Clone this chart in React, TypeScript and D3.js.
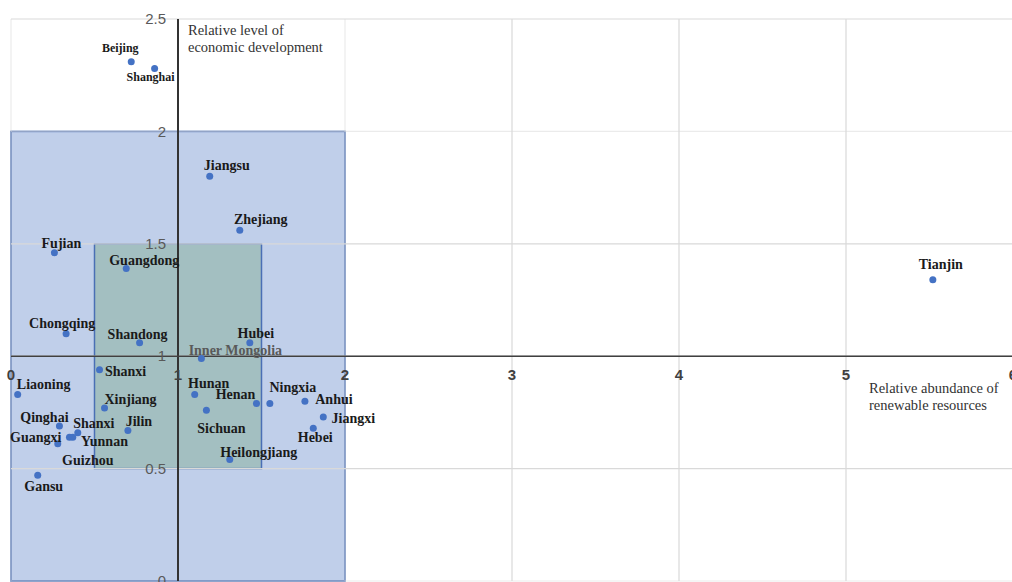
import React from 'react';
import { scaleLinear, range } from 'd3';

// province scatter: relative abundance of renewables (x) vs economic level (y)
const provinces = [
    'Beijing', 'Shanghai', 'Jiangsu', 'Zhejiang', 'Fujian', 'Guangdong', 'Chongqing', 'Shandong',
    'Hubei', 'Inner Mongolia', 'Tianjin', 'Shanxi', 'Liaoning', 'Xinjiang', 'Qinghai', 'Shanxi',
    'Jilin', 'Guangxi', 'Yunnan', 'Guizhou', 'Gansu', 'Hunan', 'Henan', 'Ningxia', 'Anhui',
    'Jiangxi', 'Hebei', 'Sichuan', 'Heilongjiang',
];
const renewables = [
    0.72, 0.86, 1.19, 1.37, 0.26, 0.69, 0.33, 0.77,
    1.43, 1.14, 5.52, 0.53, 0.04, 0.56, 0.29, 0.40,
    0.70, 0.28, 0.35, 0.37, 0.16, 1.10, 1.47, 1.55, 1.76,
    1.87, 1.81, 1.17, 1.31,
];
const economy = [
    2.31, 2.28, 1.80, 1.56, 1.46, 1.39, 1.10, 1.06,
    1.06, 0.99, 1.34, 0.94, 0.83, 0.77, 0.69, 0.66,
    0.67, 0.61, 0.64, 0.64, 0.47, 0.83, 0.79, 0.79, 0.80,
    0.73, 0.68, 0.76, 0.54,
];
const xTicks = [0, 1, 2, 3, 4, 5, 6];
const yTicks = [0, 0.5, 1, 1.5, 2, 2.5];
// quadrant boxes [x0, x1, y0, y1]
const outerBox = [0, 2, 0, 2];
const innerBox = [0.5, 1.5, 0.5, 1.5];

// label placement (pixel offset of label centre from its dot)
const labelOffsets = [
    [-11, -14], [-4, 8], [17, -11], [21, -11], [7, -10], [18, -8], [-4, -11], [-2, -9],
    [6, -10], [34, -8], [8, -16], [26, 1], [26, -10], [26, -9], [-15, -9], [16, -10],
    [11, -9], [-22, -7], [35, 4], [15, 23], [6, 11], [14, -11], [-21, -9], [23, -16], [29, -2],
    [30, 1], [2, 9], [15, 18], [29, -8],
];

export default function App() {
    const width = 1012;
    const height = 582;
    const x = scaleLinear().domain([0, 6]).range([11, 1013]);
    const y = scaleLinear().domain([0, 2.5]).range([581, 19]);
    const serif = '"Liberation Serif", "Times New Roman", serif';
    const sans = '"Liberation Sans", Arial, sans-serif';

    const box = (b, fill, key) => (
        <rect
            key={key}
            x={x(b[0])}
            y={y(b[3])}
            width={x(b[1]) - x(b[0])}
            height={y(b[2]) - y(b[3])}
            fill={fill}
            stroke="#4a6fb5"
            strokeWidth="1.5"
        />
    );

    return (
        <svg width={width} height={height} style={{ position: 'absolute', left: 0, top: 0, background: '#fff' }}>
            {box(outerBox, '#c0cfea', 'outer')}
            {box(innerBox, '#a3bfc1', 'inner')}

            {/* grid */}
            {xTicks.map(t => (
                <line key={'gx' + t} x1={x(t)} x2={x(t)} y1={y(2.5)} y2={y(0)} stroke="#d9d9d9" strokeWidth="1.2" opacity={t === 0 || t === 2 ? 0.5 : 1} />
            ))}
            {yTicks.map(t => (
                <line key={'gy' + t} x1={x(0)} x2={x(6)} y1={y(t)} y2={y(t)} stroke="#d9d9d9" strokeWidth="1.2" opacity={t === 0 || t === 2 ? 0.5 : 1} />
            ))}

            {/* axes crossing at (1, 1) */}
            <line x1={x(1)} x2={x(1)} y1={y(2.5)} y2={y(0)} stroke="#333" strokeWidth="2" />
            <line x1={x(0)} x2={x(6)} y1={y(1)} y2={y(1)} stroke="#404040" strokeWidth="1.6" />

            {/* y tick labels */}
            {yTicks.map(t => (
                <text key={'ty' + t} x={x(1) - 12} y={y(t)} dy="0.35em" textAnchor="end" fontFamily={sans} fontSize="15" fill="#595959">
                    {t}
                </text>
            ))}
            {/* x tick labels */}
            {xTicks.map(t => (
                <text key={'tx' + t} x={x(t)} y={y(1) + 19} dy="0.35em" textAnchor="middle" fontFamily={sans} fontSize="15" fontWeight="bold" fill="#404040">
                    {t}
                </text>
            ))}

            {/* points */}
            {provinces.map((p, i) => (
                <circle key={'c' + i} cx={x(renewables[i])} cy={y(economy[i])} r="3.5" fill="#4472c4" />
            ))}
            {provinces.map((p, i) => {
                const small = i < 2;
                const grey = p === 'Inner Mongolia';
                return (
                    <text
                        key={'l' + i}
                        x={x(renewables[i]) + labelOffsets[i][0]}
                        y={y(economy[i]) + labelOffsets[i][1]}
                        dy="0.35em"
                        textAnchor="middle"
                        fontFamily={serif}
                        fontWeight="bold"
                        fontSize={small ? 12 : 14}
                        fill={grey ? '#595959' : '#1a1a1a'}
                    >
                        {p}
                    </text>
                );
            })}

            {/* axis titles */}
            <text x={188} y={30} dy="0.35em" fontFamily={serif} fontSize="14.5" fill="#333">Relative level of</text>
            <text x={188} y={47} dy="0.35em" fontFamily={serif} fontSize="14.5" fill="#333">economic development</text>
            <text x={869} y={388} dy="0.35em" fontFamily={serif} fontSize="14.5" fill="#333">Relative abundance of</text>
            <text x={869} y={405} dy="0.35em" fontFamily={serif} fontSize="14.5" fill="#333">renewable resources</text>
        </svg>
    );
}
